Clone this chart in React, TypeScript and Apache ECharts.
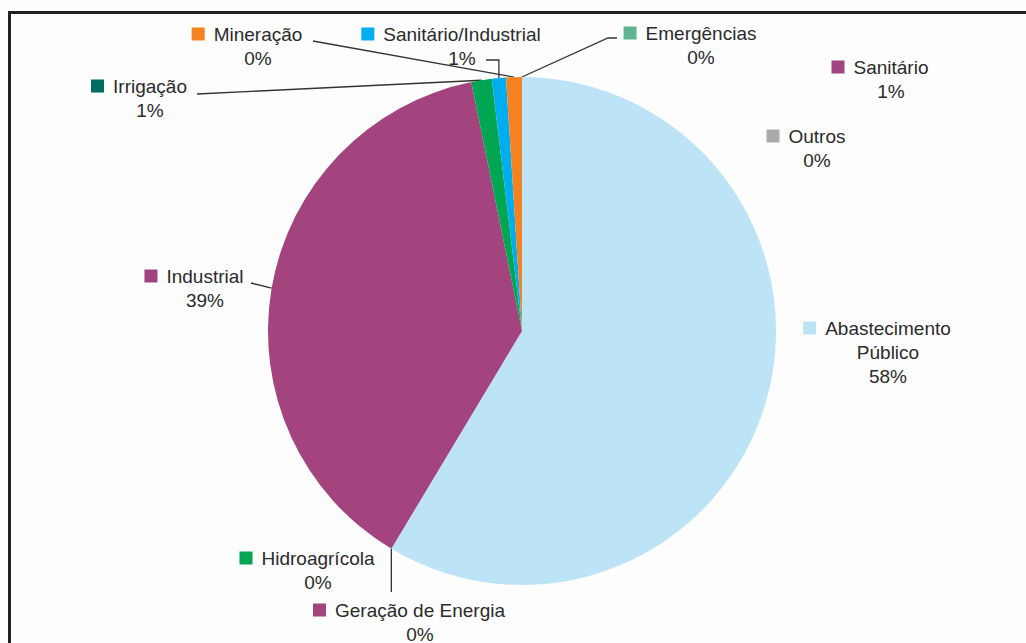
import React, { useEffect, useRef } from 'react';
import * as echarts from 'echarts';

// Categories in clockwise order starting at 12 o'clock
const categories = [
  'Abastecimento Público',
  'Geração de Energia',
  'Hidroagrícola',
  'Industrial',
  'Irrigação',
  'Sanitário/Industrial',
  'Mineração',
  'Emergências',
  'Sanitário',
  'Outros',
];
// Slice sizes as drawn (percent of total)
const sliceValues = [58.6, 0, 0, 38.2, 1.3, 0.9, 1.0, 0, 0, 0];
// Percentages as printed on the labels
const percentLabels = ['58%', '0%', '0%', '39%', '1%', '1%', '0%', '0%', '1%', '0%'];

// Styles
const sliceColors = ['#bde4f6', '#a3447f', '#00a651', '#a3447f', '#00a651', '#00aeef', '#f58220', '#5fb48f', '#a3447f', '#a7a9ac'];
const markerColors = ['#bde4f6', '#a3447f', '#00a651', '#a3447f', '#006b5e', '#00aeef', '#f58220', '#5fb48f', '#a3447f', '#a7a9ac'];

type P = number[];
// Label placement (center of name text, center of first line) and leader-line routing
const labelPlacement: Record<string, { cx: number; cy: number; wrap?: string[]; line?: (p0: P) => P[] }> = {
  'Abastecimento Público': { cx: 888, cy: 328, wrap: ['Abastecimento', 'Público'] },
  'Geração de Energia': { cx: 420, cy: 610, line: (p0) => [p0, [p0[0], 592]] },
  'Hidroagrícola': { cx: 318, cy: 558 },
  'Industrial': { cx: 205, cy: 276, line: (p0) => [p0, [251, 283]] },
  'Irrigação': { cx: 150, cy: 86, line: (p0) => [p0, [197, 94]] },
  'Sanitário/Industrial': { cx: 462, cy: 34, line: (p0) => [p0, [p0[0], 60], [486, 60]] },
  'Mineração': { cx: 258, cy: 34, line: (p0) => [p0, [313, 41]] },
  'Emergências': { cx: 701, cy: 33, line: (p0) => [p0, [608, 38], [617, 38]] },
  'Sanitário': { cx: 891, cy: 67 },
  'Outros': { cx: 817, cy: 136 },
};

const FONT = '"Liberation Sans", Arial, Helvetica, sans-serif';
const TEXT_COLOR = '#2b2b2b';
const LINE_H = 24;
const SQ = 13;
const GAP = 9;

export default function App() {
  const ref = useRef<HTMLDivElement>(null);

  useEffect(() => {
    if (!ref.current) return;
    const chart = echarts.init(ref.current, undefined, { renderer: 'svg' });

    const data = categories.map((name, i) => {
      const pl = labelPlacement[name];
      const lines = pl.wrap ?? [name];
      const parts = [`{sq| }{gap| }{name|${lines[0]}}`];
      for (let k = 1; k < lines.length; k++) parts.push(`{sp| }{name|${lines[k]}}`);
      parts.push(`{sp| }{name|${percentLabels[i]}}`);
      return {
        name,
        value: sliceValues[i],
        itemStyle: { color: sliceColors[i] },
        label: {
          formatter: parts.join('\n'),
          rich: {
            sq: { width: SQ, height: SQ, backgroundColor: markerColors[i] },
          },
        },
        labelLine: { show: !!pl.line },
      };
    });

    chart.setOption({
      animation: false,
      backgroundColor: '#fdfdfd',
      graphic: [
        {
          type: 'rect',
          shape: { x: 9.5, y: 12.5, width: 1100, height: 700 },
          style: { fill: 'none', stroke: '#202020', lineWidth: 3 },
          silent: true,
        },
      ],
      series: [
        {
          type: 'pie',
          center: [522, 331],
          radius: 254,
          startAngle: 90,
          clockwise: true,
          avoidLabelOverlap: false,
          stillShowZeroSum: true,
          minShowLabelAngle: 0,
          itemStyle: { borderWidth: 0 },
          emphasis: { disabled: true },
          data,
          label: {
            show: true,
            position: 'outside',
            color: TEXT_COLOR,
            fontFamily: FONT,
            fontSize: 19,
            lineHeight: LINE_H,
            rich: {
              name: { fontFamily: FONT, fontSize: 19, lineHeight: LINE_H, color: TEXT_COLOR },
              gap: { width: GAP },
              sp: { width: SQ + GAP },
            },
          },
          labelLine: {
            show: true,
            smooth: false,
            lineStyle: { color: '#333333', width: 1.3 },
          },
          labelLayout: (params: any) => {
            const name = categories[params.dataIndex];
            const pl = labelPlacement[name];
            const out: any = {
              x: pl.cx - (SQ + GAP) / 2,
              y: pl.cy - LINE_H / 2,
              align: 'center',
              verticalAlign: 'top',
            };
            if (pl.line && params.labelLinePoints && params.labelLinePoints[0]) {
              out.labelLinePoints = pl.line(params.labelLinePoints[0]);
            }
            return out;
          },
        },
      ],
    });

    return () => chart.dispose();
  }, []);

  return (
    <div
      ref={ref}
      style={{ position: 'absolute', left: 0, top: 0, width: 1026, height: 643 }}
    />
  );
}
